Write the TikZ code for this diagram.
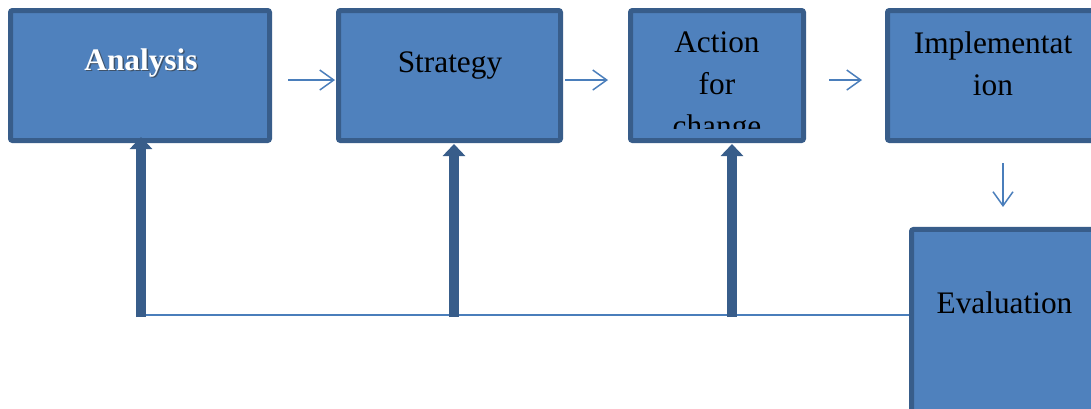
\documentclass[tikz,border=0pt]{standalone}
\usepackage{fontspec}
\setmainfont{Liberation Serif}
\usetikzlibrary{arrows.meta}
\definecolor{boxfill}{HTML}{4F81BD}
\definecolor{boxline}{HTML}{385D8A}
\definecolor{thinline}{HTML}{4A7EBB}

\begin{document}
\begin{tikzpicture}[x=0.75pt, y=-0.75pt,
  box/.style={draw=boxline, fill=boxfill, line width=3.75pt, rounded corners=1.5pt, minimum height=97.5pt, inner sep=0pt},
  txt/.style={font=\fontsize{23.5}{31.5}\selectfont, inner sep=0pt, align=center},
  flow/.style={draw=thinline, line width=1.1pt, -{Straight Barb[length=10.5pt,width=15pt]}},
  feed/.style={draw=boxline, line width=7.5pt, -{Triangle[width=16.5pt,length=9pt]}}]
\useasboundingbox (0,0) rectangle (1091,408);
\clip (0,0) rectangle (1091,408);
\fill[white] (0,0) rectangle (1091,408);

\node[box, minimum width=194.25pt] (analysis) at (140,75.5) {};
\node[box, minimum width=166.5pt] (strategy) at (449.5,75.5) {};
\node[box, minimum width=129.75pt] (action) at (717,75.5) {};
\node[box, minimum width=158.25pt] (impl) at (993,75.5) {};
\node[box, minimum width=140.25pt, minimum height=150.4pt] (evaluation) at (1005,329.75) {};

\node[txt, anchor=base, text=black!80, opacity=0.6] (analysisshadow) at (142.5,71.5) {\bfseries Analysis};
\node[txt, anchor=base, text=white] (analysistext) at (141,70) {\bfseries Analysis};
\node[txt, anchor=base] (strategytext) at (450,72) {Strategy};
\begin{scope}
\clip (action.north west) rectangle ([yshift=11pt]action.south east);
\node[txt, anchor=north] (actiontext) at (717,31.2) {Action\\for\\change};
\end{scope}
\node[txt, anchor=north] (impltext) at (993,31.6) {Implementat\\ion};
\node[txt, anchor=base] (evaluationtext) at (1004.5,313) {Evaluation};

% forward steps
\draw[flow, shorten <=12pt, shorten >=0.75pt] ([yshift=-3.4pt]analysis.east) -- ([yshift=-3.4pt]strategy.west);
\draw[flow, shorten <=1.5pt, shorten >=15pt] ([yshift=-3.4pt]strategy.east) -- ([yshift=-3.4pt]action.west);
\draw[flow, shorten <=17.25pt, shorten >=17.25pt] ([yshift=-3.4pt]action.east) -- ([yshift=-3.4pt]impl.west);
\draw[flow, shorten <=15pt, shorten >=15pt] ([xshift=7.5pt]impl.south) -- ([xshift=7.5pt]impl.south |- evaluation.north);

% feedback
\coordinate (fa) at (141,317);
\coordinate (fs) at (454,317);
\coordinate (fc) at (732,317);
\draw[draw=thinline, line width=1.4pt] ([yshift=1.5pt]fa) -- ([yshift=1.5pt]fa -| evaluation.west);
\draw[feed, shorten >=-4.5pt] (fa) -- (fa |- analysis.south);
\draw[feed, shorten >=0.75pt] (fs) -- (fs |- strategy.south);
\draw[feed, shorten >=0.75pt] (fc) -- (fc |- action.south);
\end{tikzpicture}
\end{document}
